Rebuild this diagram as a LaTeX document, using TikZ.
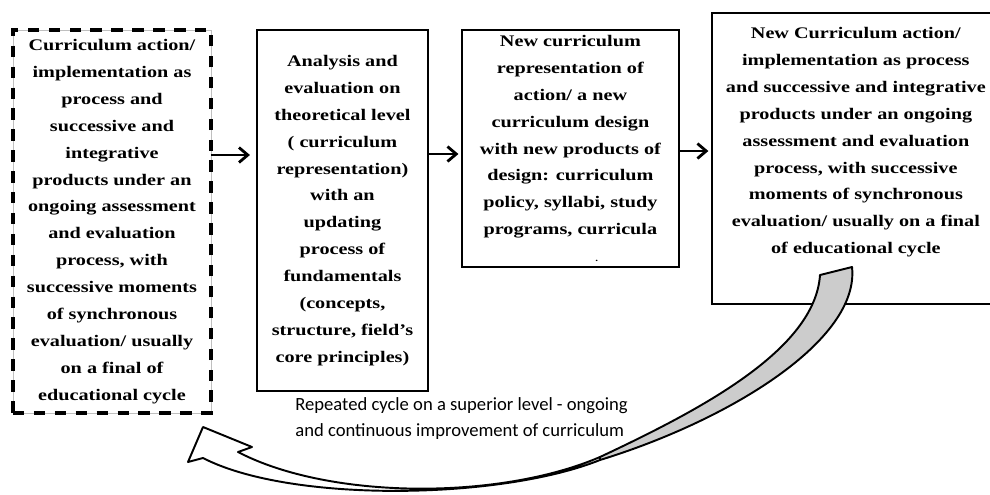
\documentclass[tikz,border=0pt]{standalone}
\usepackage{fontspec}
\setmainfont{Liberation Serif}[FakeStretch=1.25]
\newfontfamily\notefont{Carlito}
\usetikzlibrary{arrows.meta,positioning}
\tikzset{
    %Define standard arrow tip
    >={Straight Barb[length=5pt,width=8.5pt]},
    %Define style for boxes
    dashrect/.style={
           rectangle,
           draw=black!25, line width=0.3pt,
           postaction={draw=black, line width=1.8pt, dash pattern=on 6.5pt off 5.4pt},
           inner sep=0pt, outer sep=0pt,
           font=\bfseries\fontsize{9.2}{15.3}\selectfont,
           align=center},
    solidrect/.style={
           rectangle,
           draw=black, line width=1.5pt,
           inner sep=0pt, outer sep=0pt,
           font=\bfseries\fontsize{9.2}{15.3}\selectfont,
           align=center},
    boxtext/.style={
           inner sep=0pt,
           font=\bfseries\fontsize{9.2}{15.3}\selectfont,
           align=center},
    note/.style={
           inner sep=0pt,
           font=\notefont\fontsize{10.6}{15.3}\selectfont,
           align=left},
    % Define arrow style
    pil/.style={
           ->,
           line width=1.6pt,
           shorten >=2pt},
    backarrow/.style={
           draw=black, line width=1.1pt, line join=round}
}
\begin{document}
\begin{tikzpicture}[x=0.02cm,y=-0.02cm]
\useasboundingbox (0,0) rectangle (990,494);
\clip (0,0) rectangle (990,494);
%nodes
\node[dashrect, minimum width=3.96cm, minimum height=7.66cm] (act) at (112,221.5)
    {Curriculum action/\\implementation as\\process and\\successive and\\integrative\\products under an\\ongoing assessment\\and evaluation\\process, with\\successive moments\\of synchronous\\evaluation/ usually\\on a final of\\educational cycle};
\node[solidrect, minimum width=3.42cm, minimum height=7.22cm,
      right=0.92cm of act.north east, anchor=north west] (ana)
    {Analysis and\\evaluation on\\theoretical level\\( curriculum\\representation)\\with an\\updating\\process of\\fundamentals\\(concepts,\\structure, field’s\\core principles)};
\node[solidrect, minimum width=4.34cm, minimum height=4.74cm,
      right=0.68cm of ana.north east, anchor=north west] (repr)
    {New curriculum\\representation of\\action/ a new\\curriculum design\\with new products of\\design: curriculum\\policy, syllabi, study\\programs, curricula\\\hspace*{30pt}{\tiny .}};
\node[solidrect, minimum width=5.76cm, minimum height=5.82cm,
      above right=0.34cm and 0.66cm of repr.north east, anchor=north west] (newact) {};
\node[boxtext, below=0.28cm of newact.north] (newacttext)
    {New Curriculum action/\\implementation as process\\and successive and integrative\\products under an ongoing\\assessment and evaluation\\process, with successive\\moments of synchronous\\evaluation/ usually on a final\\of educational cycle};
\node[note, anchor=west] (cyclenote) at (295,418.5)
    {Repeated cycle on a superior level - ongoing\\and continuous improvement of curriculum};

%arrows
\coordinate (a1) at ([yshift=1.33cm]act.east);
\coordinate (a2) at ([yshift=1.13cm]ana.east);
\coordinate (a3) at ([yshift=-0.05cm]repr.east);
\draw[pil, shorten >=4pt] (a1) -- (a1 -| ana.west);
\draw[pil] (a2) -- (a2 -| repr.west);
\draw[pil] (a3) -- (a3 -| newact.west);

% curved return arrow
\filldraw[backarrow, fill=black!20] (820,275) .. controls (815,350) and (700,410) .. (600,457)
    -- (600,460) .. controls (730,420) and (860,340) .. (852,267) -- cycle;
\filldraw[backarrow, fill=white] (600,457) .. controls (500,500) and (330,500) .. (238,452)
    -- (252,447) -- (203,427) -- (188,462) -- (203,458)
    .. controls (290,503) and (500,500) .. (600,460) -- cycle;
\end{tikzpicture}
\end{document}
